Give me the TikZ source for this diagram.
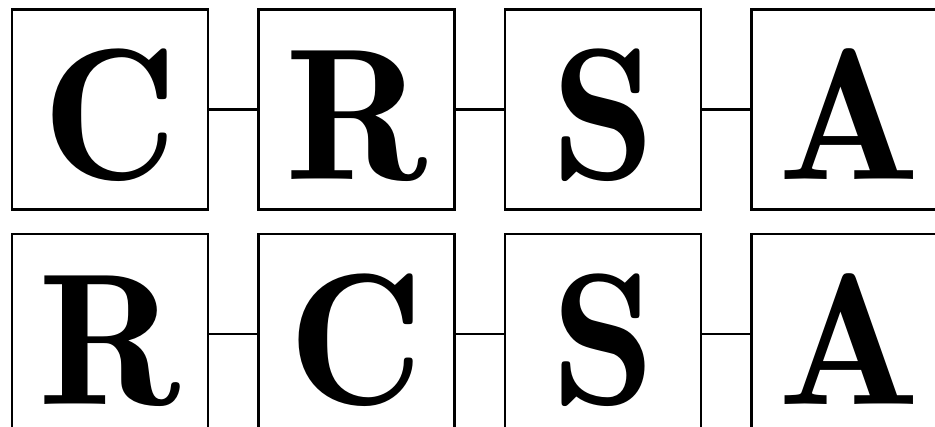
\documentclass[tikz,border=0pt]{standalone}
\usepackage{fontspec}
\newfontfamily\glyphfont{lmromandemi10-regular.otf}
\usetikzlibrary{positioning}

\tikzset{
  letterbox/.style={draw, line width=2.2pt, inner sep=0pt,
    minimum width=5.88cm, minimum height=6.0cm,
    text height=4.2cm, text depth=0pt,
    font=\glyphfont\fontsize{160}{160}\selectfont},
  link/.style={line width=2.2pt}
}

\begin{document}
\begin{tikzpicture}[x=0.03cm, y=-0.03cm, node distance=1.44cm]

% page frame (the bottom row runs off the page)
\clip (0,0) rectangle (935,427);

% top row
\node[letterbox] (c1) at (110,109.5) {C};
\node[letterbox, right=of c1] (r1) {R};
\node[letterbox, right=of r1] (s1) {S};
\node[letterbox, right=of s1] (a1) {A};

% bottom row
\node[letterbox, below=0.66cm of c1] (r2) {R};
\node[letterbox, right=of r2] (c2) {C};
\node[letterbox, right=of c2] (s2) {S};
\node[letterbox, right=of s2] (a2) {A};

% links
\draw[link] (c1) -- (r1);
\draw[link] (r1) -- (s1);
\draw[link] (s1) -- (a1);
\draw[link] (r2) -- (c2);
\draw[link] (c2) -- (s2);
\draw[link] (s2) -- (a2);

\end{tikzpicture}
\end{document}
